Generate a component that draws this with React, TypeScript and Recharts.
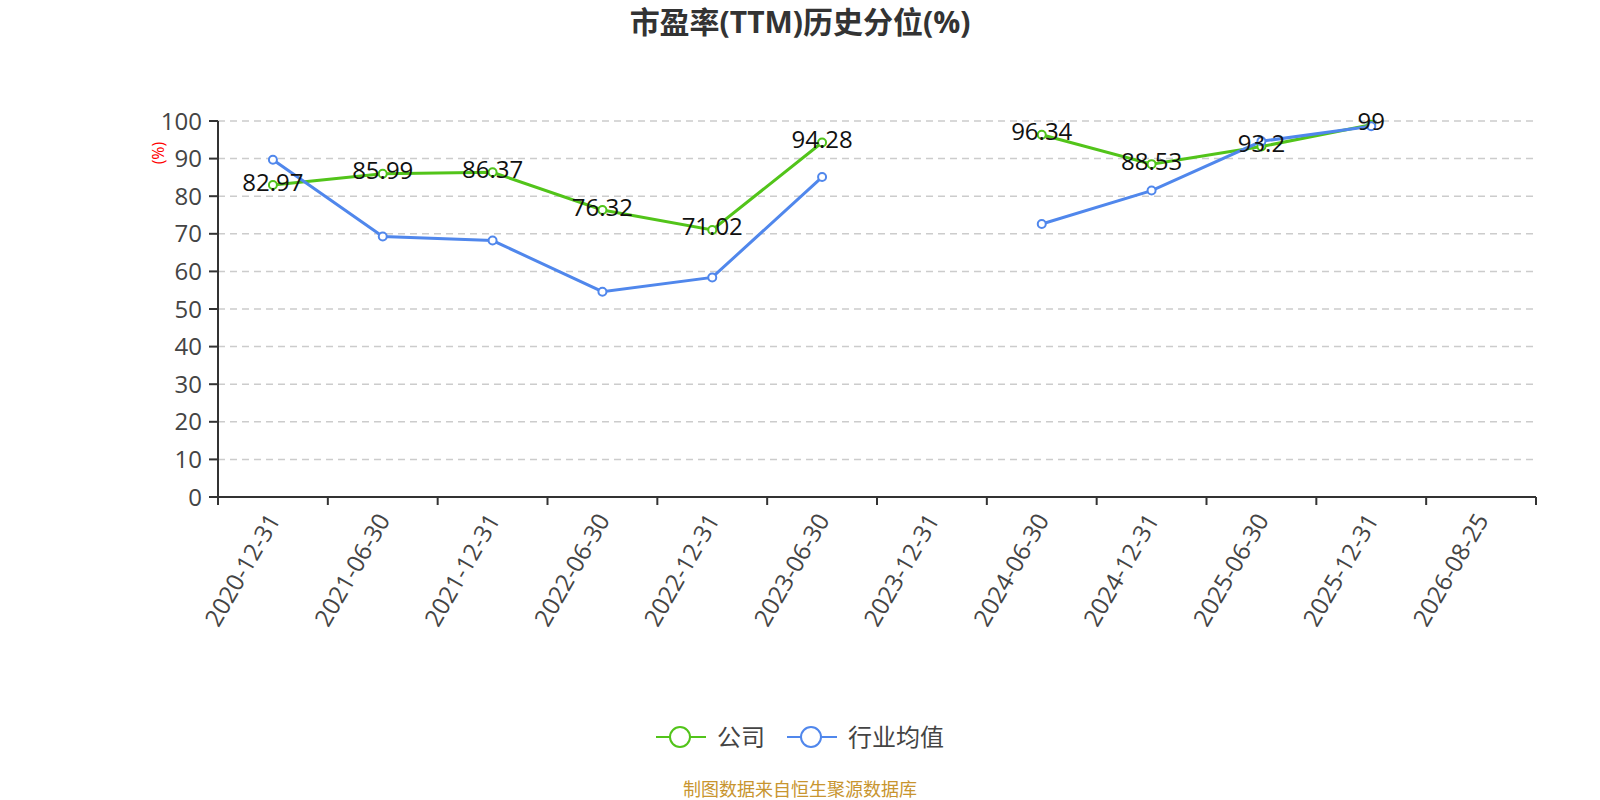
import { LineChart, Line, XAxis, YAxis, CartesianGrid, LabelList } from 'recharts';

const categories = [
  '2020-12-31', '2021-06-30', '2021-12-31', '2022-06-30', '2022-12-31', '2023-06-30',
  '2023-12-31', '2024-06-30', '2024-12-31', '2025-06-30', '2025-12-31', '2026-08-25',
];
const companyValues: (number | null)[] = [82.97, 85.99, 86.37, 76.32, 71.02, 94.28, null, 96.34, 88.53, 93.2, 99, null];
const industryValues: (number | null)[] = [89.7, 69.3, 68.2, 54.6, 58.4, 85.1, null, 72.6, 81.5, 94.6, 98.6, null];
const yTicks = [0, 10, 20, 30, 40, 50, 60, 70, 80, 90, 100];

const data = categories.map((name, i) => ({
  name,
  company: companyValues[i],
  industry: industryValues[i],
}));

const GREEN = '#52c41a';
const BLUE = '#5087ec';
const FONT = '"Open Sans", "Noto Sans CJK SC", sans-serif';

// x labels sit in the middle of each band, tick marks on the band edges
const XTick = ({ x, y, payload, index }: any) => {
  const half = payload?.offset ?? 54.9;
  return (
    <g>
      <line x1={x - half} x2={x - half} y1={y - 8} y2={y} stroke="#333" strokeWidth={2} />
      {index === categories.length - 1 && (
        <line x1={x + half} x2={x + half} y1={y - 8} y2={y} stroke="#333" strokeWidth={2} />
      )}
      <text
        x={x}
        y={y + 10}
        transform={`rotate(-60, ${x}, ${y + 10})`}
        textAnchor="end"
        dominantBaseline="central"
        fontSize={24}
        fill="#444"
        fontFamily={FONT}
      >
        {payload.value}
      </text>
    </g>
  );
};

const ValueLabel = ({ x, y, value }: any) => {
  if (value == null) return null;
  return (
    <text x={x} y={y - 4} textAnchor="middle" dominantBaseline="central" fontSize={24} fill="#111" fontFamily={FONT}>
      {value}
    </text>
  );
};

const LegendItem = ({ color, label }: { color: string; label: string }) => (
  <div style={{ display: 'flex', alignItems: 'center', gap: 11 }}>
    <svg width={50} height={24}>
      <line x1={0} x2={50} y1={12} y2={12} stroke={color} strokeWidth={2} />
      <circle cx={24} cy={12} r={10} fill="#fff" stroke={color} strokeWidth={2} />
    </svg>
    <span style={{ fontSize: 24, color: '#444', lineHeight: '24px' }}>{label}</span>
  </div>
);

export default function App() {
  return (
    <div style={{ position: 'relative', width: 1600, height: 800, background: '#fff', fontFamily: FONT }}>
      <style>{`body{margin:0}`}</style>
      <div
        style={{
          position: 'absolute', left: 0, width: 1600, top: 0, height: 44, lineHeight: '44px',
          textAlign: 'center', fontSize: 30, fontWeight: 'bold', color: '#333',
        }}
      >
        市盈率(TTM)历史分位(%)
      </div>
      <div
        style={{
          position: 'absolute', left: 128, top: 143, width: 60, height: 20, lineHeight: '20px',
          textAlign: 'center', transform: 'rotate(-90deg)', fontSize: 16, color: '#f00', zIndex: 1,
        }}
      >
        (%)
      </div>
      <LineChart
        width={1600}
        height={800}
        data={data}
        margin={{ top: 121, right: 64, left: 148, bottom: 0 }}
      >
        <CartesianGrid vertical={false} stroke="#ccc" strokeDasharray="7 5" strokeWidth={1.5} />
        <XAxis
          dataKey="name"
          scale="band"
          height={303}
          axisLine={{ stroke: '#333', strokeWidth: 2 }}
          tickLine={false}
          tick={<XTick />}
          interval={0}
        />
        <YAxis
          width={70}
          domain={[0, 100]}
          ticks={yTicks}
          interval={0}
          axisLine={{ stroke: '#333', strokeWidth: 2 }}
          tickLine={{ stroke: '#333', strokeWidth: 2 }}
          tickSize={9}
          tickMargin={7}
          tick={{ fontSize: 24, fill: '#444', fontFamily: FONT }}
        />
        <Line
          dataKey="company"
          stroke={GREEN}
          strokeWidth={3}
          dot={{ r: 4, fill: '#fff', stroke: GREEN, strokeWidth: 2 }}
          connectNulls={false}
          isAnimationActive={false}
        >
          <LabelList dataKey="company" content={<ValueLabel />} />
        </Line>
        <Line
          dataKey="industry"
          stroke={BLUE}
          strokeWidth={3}
          dot={{ r: 4, fill: '#fff', stroke: BLUE, strokeWidth: 2 }}
          connectNulls={false}
          isAnimationActive={false}
        />
      </LineChart>
      <div
        style={{
          position: 'absolute', left: 0, width: 1600, top: 725, height: 24, display: 'flex',
          justifyContent: 'center', gap: 22,
        }}
      >
        <LegendItem color={GREEN} label="公司" />
        <LegendItem color={BLUE} label="行业均值" />
      </div>
      <div
        style={{
          position: 'absolute', left: 0, width: 1600, top: 778, height: 22, lineHeight: '22px',
          textAlign: 'center', fontSize: 18, color: '#c8952f',
        }}
      >
        制图数据来自恒生聚源数据库
      </div>
    </div>
  );
}
